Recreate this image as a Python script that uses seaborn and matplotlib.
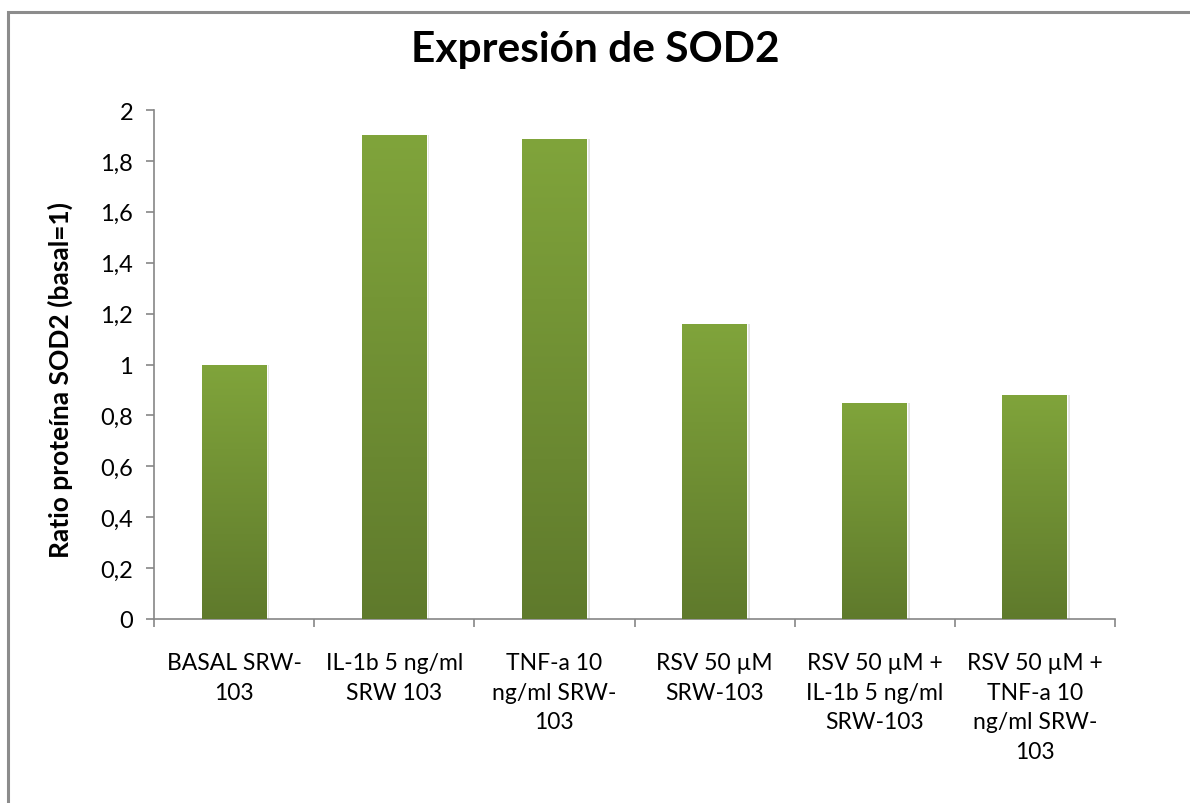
import numpy as np
import pandas as pd
import matplotlib
matplotlib.use("Agg")
import matplotlib.pyplot as plt
import matplotlib.patheffects as pe
from matplotlib.patches import Rectangle
from matplotlib.colors import LinearSegmentedColormap
from matplotlib.ticker import FuncFormatter, FixedLocator
import seaborn as sns

# data
categories = [
    "BASAL SRW-\n103",
    "IL-1b 5 ng/ml\nSRW 103",
    "TNF-a 10\nng/ml SRW-\n103",
    "RSV 50 \u00b5M\nSRW-103",
    "RSV 50 \u00b5M +\nIL-1b 5 ng/ml\nSRW-103",
    "RSV 50 \u00b5M +\nTNF-a 10\nng/ml SRW-\n103",
]
ratios = [1.0, 1.90, 1.885, 1.16, 0.847, 0.882]
yticks = [0, 0.2, 0.4, 0.6, 0.8, 1.0, 1.2, 1.4, 1.6, 1.8, 2.0]

sns.set_style("white")
plt.rcParams["font.family"] = ["Lato", "DejaVu Sans"]
plt.rcParams["text.color"] = "black"
plt.rcParams["xtick.color"] = "black"
plt.rcParams["ytick.color"] = "black"

df = pd.DataFrame({"cond": categories, "ratio": ratios})

fig = plt.figure(figsize=(11.9, 8.04), dpi=100)
ax = fig.add_axes([154 / 1190, 1 - 620 / 804, (1115 - 154) / 1190, (620 - 111) / 804])

sns.barplot(data=df, x="cond", y="ratio", color="#7a9c37", width=0.405,
            saturation=1, ax=ax, zorder=2)

# vertical green gradient on each bar + soft shadow
cmap = LinearSegmentedColormap.from_list("grn", ["#5f7a2c", "#80a43b"])
grad = np.linspace(0, 1, 256).reshape(-1, 1)
for p in ax.patches:
    x0, y0 = p.get_x(), p.get_y()
    w, h = p.get_width(), p.get_height()
    p.set_path_effects([pe.SimplePatchShadow(offset=(2, 0), shadow_rgbFace="#c8c8c8", alpha=0.5),
                        pe.Normal()])
    im = ax.imshow(grad, extent=[x0, x0 + w, y0, y0 + h], origin="lower",
                   aspect="auto", cmap=cmap, zorder=3)
    im.set_clip_path(p)

ax.set_xlim(-0.5, len(categories) - 0.5)
ax.set_ylim(0, 2)
ax.set_yticks(yticks)
ax.yaxis.set_major_formatter(FuncFormatter(lambda v, _: f"{v:g}".replace(".", ",")))
ax.set_xlabel("")
ax.set_ylabel("")

for s in ["top", "right"]:
    ax.spines[s].set_visible(False)
for s in ["left", "bottom"]:
    ax.spines[s].set_color("#868686")
    ax.spines[s].set_linewidth(1.2)

ax.tick_params(axis="y", length=6, width=1.2, color="#868686", labelsize=17,
               pad=9, direction="out", left=True)
ax.xaxis.set_minor_locator(FixedLocator(np.arange(-0.5, len(categories), 1)))
ax.tick_params(axis="x", which="major", length=0, labelsize=16.5, pad=24)
ax.tick_params(axis="x", which="minor", length=6, width=1.2, color="#868686",
               direction="out", bottom=True)
for t in ax.get_xticklabels():
    t.set_linespacing(1.5)
    t.set_verticalalignment("top")

fig.text(0.5, 1 - 50 / 804, "Expresi\u00f3n de SOD2", ha="center", va="center",
         fontsize=30.5, fontweight="bold")
fig.text(60 / 1190, 1 - 380 / 804, "Ratio prote\u00edna SOD2 (basal=1)", ha="center",
         va="center", rotation=90, fontsize=19, fontweight="bold")

# chart frame
fig.patches.append(Rectangle((8 / 1190, -0.05), 1.1, 1 - 13 / 804 + 0.05,
                             transform=fig.transFigure, fill=False,
                             edgecolor="#8c8c8c", linewidth=2.2))

fig.savefig("out.png", dpi=100)
